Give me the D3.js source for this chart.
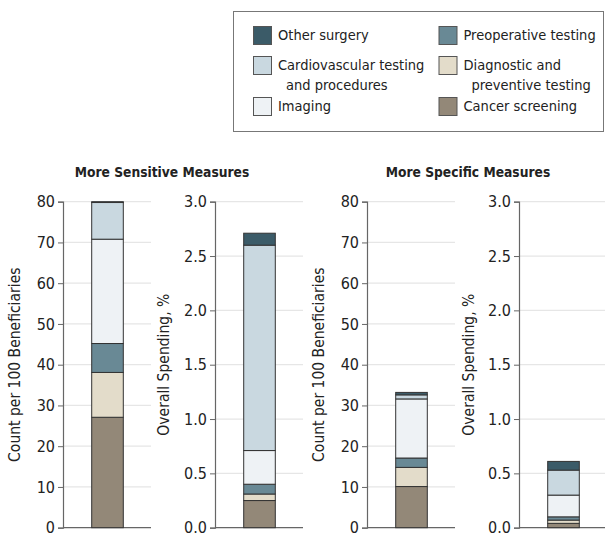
<!DOCTYPE html>
<html><head><meta charset="utf-8">
<script src="https://cdn.jsdelivr.net/npm/d3@7"></script>
<style>
body{margin:0;background:#fff;}
text{font-family:"DejaVu Sans Condensed","DejaVu Sans",sans-serif;fill:#222;}
</style></head><body>
<svg id="chart" width="605" height="554"></svg>
<script>
const categories = ["Cancer screening","Diagnostic and preventive testing","Preoperative testing","Imaging","Cardiovascular testing and procedures","Other surgery"];
const colors = ["#938878","#e3dcca","#698995","#eef2f5","#c9d8e0","#3b5b68"];
const sensitiveCount = [27.1, 11.0, 7.1, 25.6, 9.0, 0.2];
const sensitiveSpending = [0.25, 0.06, 0.09, 0.31, 1.89, 0.11];
const specificCount = [10.1, 4.7, 2.3, 14.5, 1.0, 0.6];
const specificSpending = [0.04, 0.03, 0.03, 0.20, 0.23, 0.08];
const countTicks = [0,10,20,30,40,50,60,70,80];
const spendTicks = [0,0.5,1.0,1.5,2.0,2.5,3.0];
const groupTitles = ["More Sensitive Measures","More Specific Measures"];
const axisTitles = ["Count per 100 Beneficiaries","Overall Spending, %"];

const svg = d3.select("#chart");

// legend
const legendItems = [
  {i:5, col:0, row:0, lines:["Other surgery"]},
  {i:2, col:1, row:0, lines:["Preoperative testing"]},
  {i:4, col:0, row:1, lines:["Cardiovascular testing","and procedures"]},
  {i:1, col:1, row:1, lines:["Diagnostic and","preventive testing"]},
  {i:3, col:0, row:2, lines:["Imaging"]},
  {i:0, col:1, row:2, lines:["Cancer screening"]}
];
svg.append("rect").attr("x",233.5).attr("y",11.5).attr("width",370).attr("height",120)
  .attr("fill","none").attr("stroke","#777").attr("stroke-width",1);
const colX = [253, 438.5], rowY = [26, 56, 97];
const lg = svg.append("g");
legendItems.forEach(d=>{
  const x = colX[d.col], y = rowY[d.row];
  lg.append("rect").attr("x",x+0.5).attr("y",y+0.5).attr("width",18).attr("height",18)
    .attr("fill",colors[d.i]).attr("stroke","#555").attr("stroke-width",1);
  d.lines.forEach((t,k)=>{
    lg.append("text").attr("x",x+25 + (k>0?8:0)).attr("y",y+14+k*20)
      .style("font-size","14.5px").text(t);
  });
});

// panels
const y0 = 527.7, yTop = 201.7;
const panels = [
  {ax:63, data:sensitiveCount, max:80, ticks:countTicks, fmt:d3.format("d"), title:axisTitles[0], labX:20},
  {ax:215, data:sensitiveSpending, max:3, ticks:spendTicks, fmt:d3.format(".1f"), title:axisTitles[1], labX:169},
  {ax:367, data:specificCount, max:80, ticks:countTicks, fmt:d3.format("d"), title:axisTitles[0], labX:324},
  {ax:519, data:specificSpending, max:3, ticks:spendTicks, fmt:d3.format(".1f"), title:axisTitles[1], labX:474}
];
const gridW = 88;
panels.forEach(p=>{
  const y = d3.scaleLinear().domain([0,p.max]).range([y0,yTop]);
  const g = svg.append("g");
  g.selectAll("line.grid").data(p.ticks.filter(t=>t>0)).join("line")
    .attr("x1",p.ax).attr("x2",p.ax+gridW).attr("y1",d=>y(d)).attr("y2",d=>y(d))
    .attr("stroke","#e6e6e6").attr("stroke-width",1.2);
  const axis = d3.axisLeft(y).tickValues(p.ticks).tickFormat(p.fmt).tickSize(5).tickPadding(3);
  const ag = g.append("g").attr("transform",`translate(${p.ax},0)`).call(axis);
  ag.select(".domain").attr("stroke","#666").attr("stroke-width",1.2);
  ag.selectAll(".tick line").attr("stroke","#666");
  ag.selectAll(".tick text").style("font-size","16px").attr("fill","#222")
    .style("font-family",'"DejaVu Sans Condensed","DejaVu Sans",sans-serif');
  g.append("line").attr("x1",p.ax).attr("x2",p.ax+gridW).attr("y1",y0).attr("y2",y0)
    .attr("stroke","#666").attr("stroke-width",1.2);
  const row = {key:"v"}; categories.forEach((c,i)=>row[c]=p.data[i]);
  const series = d3.stack().keys(categories)([row]);
  const bw = 31.6;
  const bx = p.ax + 28.7;
  g.selectAll("rect.seg").data(series).join("rect")
    .attr("x",bx).attr("width",bw)
    .attr("y",d=>y(d[0][1])).attr("height",d=>y(d[0][0])-y(d[0][1]))
    .attr("fill",(d,i)=>colors[i]).attr("stroke","#333").attr("stroke-width",1);
  g.append("text").attr("transform",`translate(${p.labX},${(y0+yTop)/2}) rotate(-90)`)
    .attr("text-anchor","middle").style("font-size","15.5px").text(p.title);
});

[162, 468].forEach((cx,i)=>{
  svg.append("text").attr("x",cx).attr("y",177).attr("text-anchor","middle")
    .style("font-size","13.7px").style("font-weight","bold").text(groupTitles[i]);
});
</script></body></html>
